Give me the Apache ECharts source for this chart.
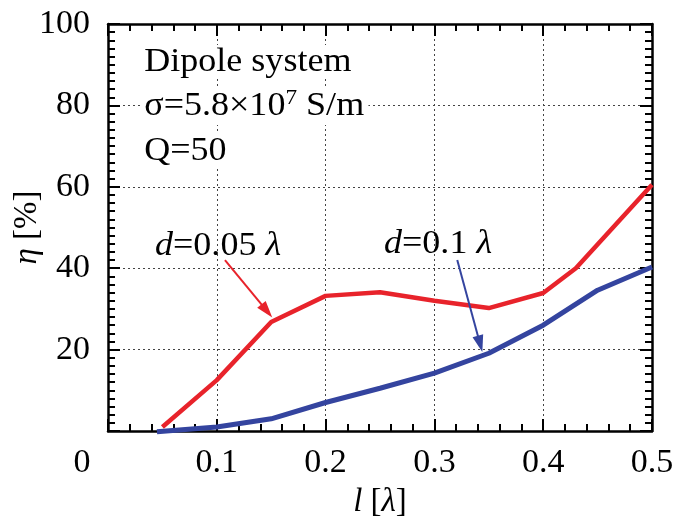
<!DOCTYPE html>
<html>
<head>
<meta charset="utf-8">
<script src="https://cdn.jsdelivr.net/npm/echarts@6/dist/echarts.min.js"></script>
<style>
  html, body { margin: 0; padding: 0; background: #fff; }
  #chart { width: 676px; height: 516px; }
</style>
</head>
<body>
<div id="chart"></div>
<script>
// Dipole length l (in wavelengths) versus efficiency eta (%)
const lengthThin = [0.05, 0.1, 0.15, 0.2, 0.25, 0.3, 0.35, 0.4, 0.43, 0.5];
const etaThin = [1, 12.5, 26.8, 33.2, 34.1, 32, 30.2, 33.9, 40, 60.5];   // d = 0.05 λ
const lengthThick = [0.045, 0.1, 0.15, 0.2, 0.25, 0.3, 0.35, 0.4, 0.45, 0.5];
const etaThick = [-0.2, 1, 3, 7, 10.5, 14.2, 19.1, 26, 34.6, 40.3];     // d = 0.1 λ

// Pointer arrows from each label to its curve, in data units
const arrowThin = [[0.1075, 42], [0.146, 29.5]];
const arrowThick = [[0.321, 42], [0.342, 21.4]];

const serif = 'Liberation Serif';
const RED = '#e8232b';
const BLUE = '#34449f';

const chart = echarts.init(document.getElementById('chart'));

const frameAxis = {
  axisLine: { show: true, onZero: false, lineStyle: { color: '#000', width: 2.5 } },
  axisTick: { show: true, inside: true, length: 12, lineStyle: { color: '#000', width: 2 } },
  minorTick: { show: true, length: 7, lineStyle: { color: '#000', width: 2 } }
};

function pairs(xs, ys) { return xs.map((x, i) => [x, ys[i]]); }

const annotationText = (text, left, top, extra) => ({
  type: 'text', left: left, top: top, z: 50, scaleX: 1.06,
  style: Object.assign({
    text: text, fontFamily: serif, fontSize: 34, fill: '#000'
  }, extra || {})
});

chart.setOption({
  animation: false,
  backgroundColor: '#fff',
  grid: { left: 108, right: 24, top: 24, bottom: 85, outerBoundsMode: 'none', containLabel: false },
  xAxis: [
    Object.assign({
      type: 'value', min: 0, max: 0.5, interval: 0.1, position: 'bottom',
      name: '{i|l} [{i|λ}]', nameLocation: 'middle', nameGap: 55, nameMoveOverlap: false,
      nameTextStyle: {
        fontFamily: serif, fontSize: 33, color: '#000',
        rich: { i: { fontFamily: serif, fontSize: 33, fontStyle: 'italic', color: '#000' } }
      },
      axisLabel: {
        fontFamily: serif, fontSize: 34, color: '#000', margin: 15,
        formatter: v => v === 0 ? '{z|0}' : v.toFixed(1),
        rich: { z: { fontFamily: serif, fontSize: 34, color: '#000', padding: [0, 52, 0, 0] } }
      },
      splitLine: { show: true, lineStyle: { color: '#444', type: [2, 3], width: 1 } }
    }, frameAxis, { minorTick: Object.assign({ splitNumber: 5 }, frameAxis.minorTick) }),
    Object.assign({
      type: 'value', min: 0, max: 0.5, interval: 0.1, position: 'top',
      axisLabel: { show: false }, splitLine: { show: false }
    }, frameAxis, { minorTick: Object.assign({ splitNumber: 5 }, frameAxis.minorTick) })
  ],
  yAxis: [
    Object.assign({
      type: 'value', min: 0, max: 100, interval: 20, position: 'left',
      name: '{i|η} [%]', nameLocation: 'middle', nameGap: 64, nameRotate: 90,
      nameMoveOverlap: false,
      nameTextStyle: {
        fontFamily: serif, fontSize: 33, color: '#000',
        rich: { i: { fontFamily: serif, fontSize: 33, fontStyle: 'italic', color: '#000' } }
      },
      axisLabel: {
        fontFamily: serif, fontSize: 34, color: '#000', margin: 18,
        formatter: v => v === 0 ? '' : String(v)
      },
      splitLine: { show: true, lineStyle: { color: '#444', type: [2, 3], width: 1 } }
    }, frameAxis, { minorTick: Object.assign({ splitNumber: 10 }, frameAxis.minorTick) }),
    Object.assign({
      type: 'value', min: 0, max: 100, interval: 20, position: 'right',
      axisLabel: { show: false }, splitLine: { show: false }
    }, frameAxis, { minorTick: Object.assign({ splitNumber: 10 }, frameAxis.minorTick) })
  ],
  graphic: [
    annotationText('Dipole system', 140, 45, { backgroundColor: '#fff', padding: [0, 4] }),
    annotationText('σ=5.8×10{s|7} S/m', 140, 87, {
      backgroundColor: '#fff', padding: [0, 4],
      rich: { s: { fontFamily: serif, fontSize: 22, fill: '#000', padding: [0, 0, 16, 0] } }
    }),
    annotationText('Q=50', 140, 134, { backgroundColor: '#fff', padding: [0, 4] }),
    annotationText('{i|d}=0.05 {i|λ}', 155, 229, {
      rich: { i: { fontFamily: serif, fontSize: 34, fontStyle: 'italic', fill: '#000' } }
    }),
    annotationText('{i|d}=0.1 {i|λ}', 384, 227, {
      rich: { i: { fontFamily: serif, fontSize: 34, fontStyle: 'italic', fill: '#000' } }
    })
  ],
  series: [
    {
      name: 'd=0.05λ', type: 'line', data: pairs(lengthThin, etaThin),
      showSymbol: false, clip: false, z: 3,
      lineStyle: { color: RED, width: 4.5 },
      markLine: {
        silent: true, symbol: ['none', 'triangle'], symbolSize: [11, 17],
        label: { show: false },
        lineStyle: { color: RED, width: 2, type: 'solid' },
        data: [[{ coord: arrowThin[0] }, { coord: arrowThin[1] }]]
      }
    },
    {
      name: 'd=0.1λ', type: 'line', data: pairs(lengthThick, etaThick),
      showSymbol: false, clip: false, z: 4,
      lineStyle: { color: BLUE, width: 5 },
      markLine: {
        silent: true, symbol: ['none', 'triangle'], symbolSize: [11, 17],
        label: { show: false },
        lineStyle: { color: BLUE, width: 2, type: 'solid' },
        data: [[{ coord: arrowThick[0] }, { coord: arrowThick[1] }]]
      }
    }
  ]
});
</script>
</body>
</html>
